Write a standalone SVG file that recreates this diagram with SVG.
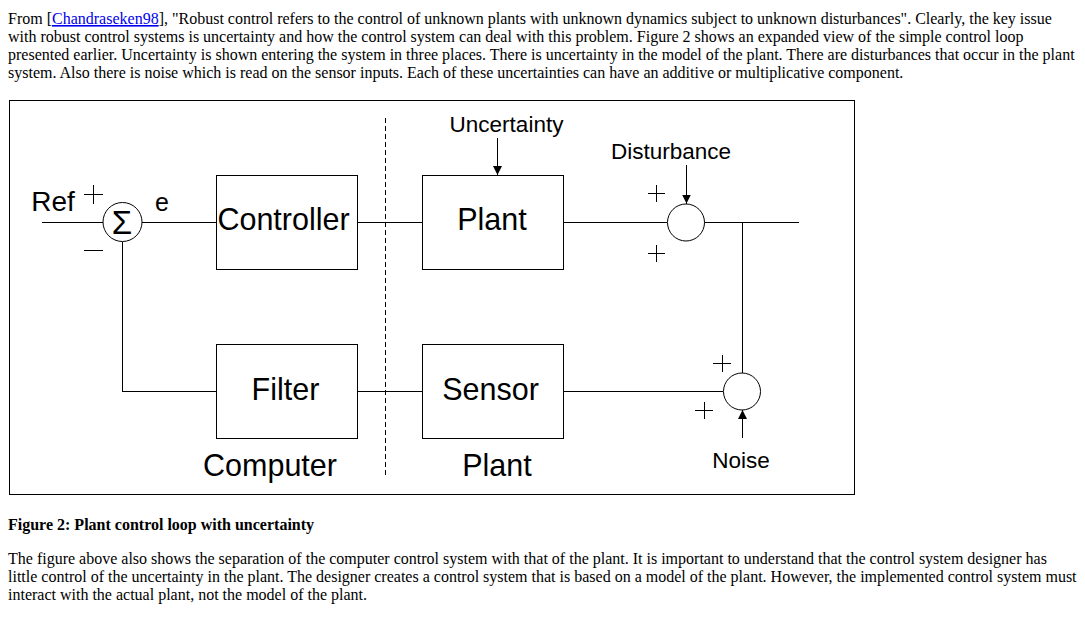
<svg xmlns="http://www.w3.org/2000/svg" width="1085" height="619" viewBox="0 0 1085 619">
<style>
.body{font-family:"Liberation Serif","Times New Roman",serif;font-size:16px;fill:#000}
.cap{font-family:"Liberation Serif","Times New Roman",serif;font-size:16px;font-weight:bold;fill:#000}
.lbl{font-family:"Liberation Sans",Arial,sans-serif;fill:#000;text-anchor:middle}
.big{font-size:30.5px}
.small{font-size:22.5px}
.box{fill:#fff;stroke:#000;stroke-width:1}
.ln{fill:none;stroke:#000;stroke-width:1}
.circ{fill:#fff;stroke:#000;stroke-width:1}
.dash{fill:none;stroke:#000;stroke-width:1;stroke-dasharray:5 3}
.link{fill:#0000EE;text-decoration:underline}
</style>
<defs>
<marker id="arr" viewBox="0 0 10 10" refX="10" refY="5" markerWidth="9" markerHeight="9" markerUnits="userSpaceOnUse" orient="auto">
<path d="M0,0 L10,5 L0,10 z" fill="#000"/>
</marker>
</defs>
<rect width="1085" height="619" fill="#fff"/>
<g id="intro">
<text class="body" x="8" y="24">From [<tspan class="link">Chandraseken98</tspan>], "Robust control refers to the control of unknown plants with unknown dynamics subject to unknown disturbances". Clearly, the key issue</text>
<text class="body" x="8" y="42">with robust control systems is uncertainty and how the control system can deal with this problem. Figure 2 shows an expanded view of the simple control loop</text>
<text class="body" x="8" y="60">presented earlier. Uncertainty is shown entering the system in three places. There is uncertainty in the model of the plant. There are disturbances that occur in the plant</text>
<text class="body" x="8" y="78">system. Also there is noise which is read on the sensor inputs. Each of these uncertainties can have an additive or multiplicative component.</text>
</g>
<rect id="frame" x="9.5" y="100.5" width="845" height="394" fill="#fff" stroke="#000" stroke-width="1"/>
<g id="connectors" shape-rendering="crispEdges">
<path class="ln" d="M42,222.5 H103"/>
<path class="ln" d="M142,222.5 H216"/>
<path class="ln" d="M357,222.5 H422"/>
<path class="ln" d="M563,222.5 H667"/>
<path class="ln" d="M704,222.5 H799"/>
<path class="ln" d="M742.5,222.5 V373"/>
<path class="ln" d="M563,391.5 H723"/>
<path class="ln" d="M358,391.5 H422"/>
<path class="ln" d="M216,391.5 H122.5 V242"/>
<path class="ln" d="M497.5,138 V175" marker-end="url(#arr)"/>
<path class="ln" d="M686.5,165 V203.5" marker-end="url(#arr)"/>
<path class="ln" d="M742.5,438 V410" marker-end="url(#arr)"/>
</g>
<g id="divider" shape-rendering="crispEdges">
<path class="dash" d="M385.5,118 V477"/>
</g>
<g id="sum">
<circle class="circ" cx="122.5" cy="222" r="19.5"/>
<text x="122" y="234" font-family="'Liberation Sans',Arial,sans-serif" font-size="33" text-anchor="middle" fill="#000">Σ</text>
</g>
<g id="ref">
<text class="lbl" x="53" y="211" font-size="28">Ref</text>
<path class="ln" shape-rendering="crispEdges" d="M84,194.5 H103 M93.5,185 V204"/>
<path class="ln" shape-rendering="crispEdges" d="M84,250.5 H103"/>
</g>
<g id="e"><text class="lbl" x="162" y="211" font-size="25">e</text></g>
<g id="controller">
<rect class="box" x="216.5" y="175.5" width="141" height="94" shape-rendering="crispEdges"/>
<text class="lbl big" x="283.5" y="230">Controller</text>
</g>
<g id="plant">
<rect class="box" x="422.5" y="175.5" width="141" height="94" shape-rendering="crispEdges"/>
<text class="lbl big" x="492" y="230">Plant</text>
</g>
<g id="filter">
<rect class="box" x="216.5" y="344.5" width="141" height="94" shape-rendering="crispEdges"/>
<text class="lbl big" x="285.5" y="400">Filter</text>
</g>
<g id="sensor">
<rect class="box" x="422.5" y="344.5" width="141" height="94" shape-rendering="crispEdges"/>
<text class="lbl big" x="490.5" y="400">Sensor</text>
</g>
<g id="uncertainty"><text class="lbl small" x="506.5" y="132">Uncertainty</text></g>
<g id="disturbance"><text class="lbl small" x="671" y="159">Disturbance</text></g>
<g id="sum2">
<circle class="circ" cx="686" cy="222.5" r="18.5"/>
<path class="ln" shape-rendering="crispEdges" d="M648,193.5 H665 M656.5,185 V202"/>
<path class="ln" shape-rendering="crispEdges" d="M648,253.5 H665 M656.5,245 V262"/>
</g>
<g id="sum3">
<circle class="circ" cx="742" cy="391.5" r="18.5"/>
<path class="ln" shape-rendering="crispEdges" d="M713,363.5 H731 M722.5,355 V372"/>
<path class="ln" shape-rendering="crispEdges" d="M695,410.5 H713 M704.5,402 V419"/>
</g>
<g id="noise"><text class="lbl small" x="741" y="468">Noise</text></g>
<g id="computer-label"><text class="lbl big" x="270" y="476">Computer</text></g>
<g id="plant-label"><text class="lbl big" x="497" y="476">Plant</text></g>
<g id="caption">
<text class="cap" x="8" y="530">Figure 2: Plant control loop with uncertainty</text>
</g>
<g id="outro">
<text class="body" x="8" y="564">The figure above also shows the separation of the computer control system with that of the plant. It is important to understand that the control system designer has</text>
<text class="body" x="8" y="582">little control of the uncertainty in the plant. The designer creates a control system that is based on a model of the plant. However, the implemented control system must</text>
<text class="body" x="8" y="600">interact with the actual plant, not the model of the plant.</text>
</g>
</svg>
